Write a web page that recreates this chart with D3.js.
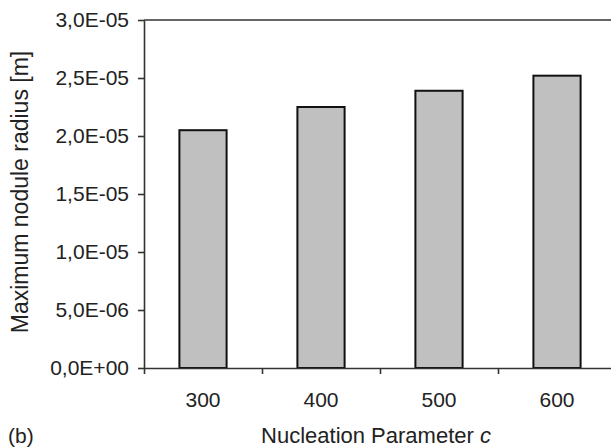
<!DOCTYPE html>
<meta charset="utf-8">
<style>
body{margin:0;background:#fff;}
svg{position:absolute;top:0;left:0;}
text{font-family:"Liberation Sans",Arial,sans-serif;fill:#222;}
.axis path,.axis line{stroke:#333;stroke-width:1.6px;}
</style>
<script src="https://d3js.org/d3.v7.min.js"></script>
<svg width="611" height="448"></svg>
<script>
var categories = ["300", "400", "500", "600"];
var radius = [2.05e-5, 2.25e-5, 2.39e-5, 2.52e-5];
var yTicks = [0, 5e-6, 1e-5, 1.5e-5, 2e-5, 2.5e-5, 3e-5];

var svg = d3.select("svg"),
  mLeft = 144, mRight = 616, mTop = 20, mBottom = 368;

var x = d3.scaleBand().domain(categories).range([mLeft, mRight]).paddingInner(0.6).paddingOuter(0.3);
var xEdge = d3.scaleLinear().domain([0, categories.length]).range([mLeft, mRight]);
var y = d3.scaleLinear().domain([0, 3e-5]).range([mBottom, mTop]);

function fmt(v) {
  var s = v.toExponential(1).toUpperCase().replace(".", ",");
  // pad exponent to two digits
  return s.replace(/E([+-])(\d)$/, "E$10$2");
}

// frame (top and right)
svg.append("path")
  .attr("d", "M" + mLeft + "," + mTop + "H" + mRight + "V" + mBottom)
  .attr("fill", "none").attr("stroke", "#333").attr("stroke-width", 1.6);

svg.selectAll("rect.bar").data(radius).enter().append("rect")
  .attr("class", "bar")
  .attr("x", function(d, i) { return x(categories[i]); })
  .attr("y", function(d) { return y(d); })
  .attr("width", x.bandwidth())
  .attr("height", function(d) { return y(0) - y(d); })
  .attr("fill", "#c0c0c0").attr("stroke", "#111").attr("stroke-width", 2);

var ya = svg.append("g").attr("class", "axis")
  .attr("transform", "translate(" + mLeft + ",0)")
  .call(d3.axisLeft(y).tickValues(yTicks).tickFormat(fmt).tickSize(6).tickSizeOuter(0));
ya.selectAll("text").attr("x", -15).style("font-size", "21px").attr("fill", "#222");

var xa = svg.append("g").attr("class", "axis")
  .attr("transform", "translate(0," + mBottom + ")")
  .call(d3.axisBottom(xEdge).tickValues(d3.range(categories.length + 1)).tickFormat("").tickSize(6).tickSizeOuter(0));

svg.selectAll("text.xl").data(categories).enter().append("text")
  .attr("class", "xl")
  .attr("x", function(d) { return x(d) + x.bandwidth() / 2; })
  .attr("y", 407)
  .attr("text-anchor", "middle")
  .style("font-size", "21px")
  .text(function(d) { return d; });

var xt = svg.append("text")
  .attr("x", 376).attr("y", 443)
  .attr("text-anchor", "middle")
  .style("font-size", "22px");
xt.append("tspan").text("Nucleation Parameter ");
xt.append("tspan").style("font-style", "italic").text("c");

svg.append("text")
  .attr("x", 8).attr("y", 443)
  .style("font-size", "21px")
  .text("(b)");

svg.append("text")
  .attr("transform", "translate(28,192) rotate(-90)")
  .attr("text-anchor", "middle")
  .style("font-size", "23px")
  .text("Maximum nodule radius [m]");
</script>
